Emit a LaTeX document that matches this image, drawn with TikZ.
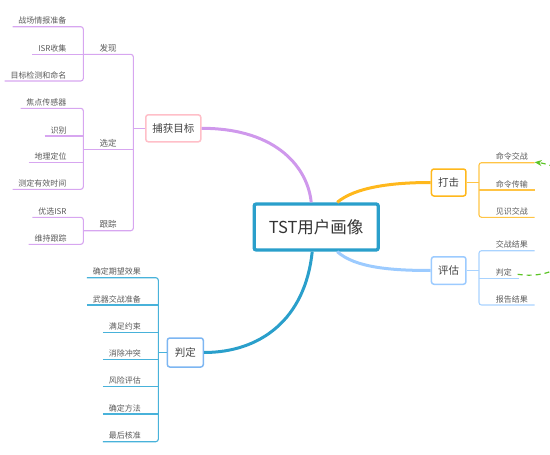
\documentclass[tikz,border=0pt]{standalone}
\usepackage{fontspec}
\setmainfont{Noto Sans CJK SC}
\usetikzlibrary{arrows.meta}
\definecolor{plc}{HTML}{D7A6F0}
\definecolor{pcv}{HTML}{CF98EC}
\definecolor{pinkb}{HTML}{FFBFC8}
\definecolor{orc}{HTML}{FFB81C}
\definecolor{orl}{HTML}{FFC445}
\definecolor{lbc}{HTML}{9CCBFF}
\definecolor{lbl}{HTML}{A9D3FF}
\definecolor{tlc}{HTML}{2A9FCB}
\definecolor{tll}{HTML}{48B2DA}
\definecolor{jdb}{HTML}{7DB6F2}
\definecolor{grn}{HTML}{5CC425}
\definecolor{leaftxt}{HTML}{5A5A5A}
\definecolor{boxtxt}{HTML}{444444}
\definecolor{ctxt}{HTML}{333333}
\newcommand\leaffont{\fontsize{8}{9}\selectfont}
\newcommand\subfont{\fontsize{8.5}{10}\selectfont}
\newcommand\boxfont{\fontsize{10.5}{12}\selectfont}
\newcommand\centerfont{\fontsize{16.5}{19}\selectfont}
\begin{document}
\begin{tikzpicture}[x=1pt,y=-1pt,
  leafL/.style={anchor=south east, yshift=2pt, inner sep=0pt, font=\leaffont, text=leaftxt},
  leafR/.style={anchor=south west, yshift=2pt, inner sep=0pt, font=\leaffont, text=leaftxt},
  subl/.style={anchor=south, yshift=2pt, inner sep=0pt, font=\subfont, text=leaftxt},
  bbox/.style={draw, line width=1.5pt, rounded corners=2.5pt, fill=white, font=\boxfont, text=boxtxt, inner sep=0pt},
  cbox/.style={draw=tlc, line width=3.3pt, rounded corners=2pt, fill=white, font=\centerfont, text=ctxt, minimum width=124pt, minimum height=46pt, inner sep=0pt},
  pl/.style={draw=plc, line width=1.1pt, rounded corners=2.5pt},
  ol/.style={draw=orl, line width=1.1pt, rounded corners=2.5pt},
  bl/.style={draw=lbl, line width=1.1pt, rounded corners=2.5pt},
  tl/.style={draw=tll, line width=1.1pt, rounded corners=2.5pt},
  mcurve/.style={line width=3pt},
  grnd/.style={draw=grn, line width=1.2pt, dash pattern=on 5pt off 4pt, -{Stealth[length=7pt,width=6pt]}}
]
\useasboundingbox (0,0) rectangle (550,455);

% ---------- boxes ----------
\node[cbox] (c) at (316.2,227) {TST用户画像};
\node[bbox, draw=pinkb, minimum width=55pt, minimum height=27pt] (cap) at (173.3,128.3) {捕获目标};
\node[bbox, draw=orc, minimum width=34.5pt, minimum height=27pt] (hit) at (448.7,182.5) {打击};
\node[bbox, draw=lbc, minimum width=34.5pt, minimum height=27.5pt] (eva) at (448.7,270.5) {评估};
\node[bbox, draw=jdb, minimum width=36pt, minimum height=29pt] (jud) at (185.3,352.5) {判定};

% ---------- main curves ----------
\draw[mcurve, draw=pcv] (cap.east) .. controls +(78,0) and +(-3,-32) .. ([xshift=-5pt]c.north);
\draw[mcurve, draw=orc] ([xshift=21pt]c.north) .. controls +(18,-15) and +(-40,0) .. (hit.west);
\draw[mcurve, draw=lbc] ([xshift=21pt]c.south) .. controls +(18,16) and +(-40,0) .. (eva.west);
\draw[mcurve, draw=tlc] ([xshift=-4pt]c.south) .. controls +(-7,68) and +(56,0) .. (jud.east);

% ---------- 捕获目标 ----------
\node[subl] (s1) at (108,54.3) {发现};
\node[subl] (s2) at (108,149.3) {选定};
\node[subl] (s3) at (108,230.7) {跟踪};
\coordinate (trk) at (133.3,128.3);
\draw[pl] (83.3,54.3) -- (133.3,54.3) -- (133.3,230.7) -- (83.3,230.7);
\draw[pl] (83.3,149.3) -- (133.3,149.3);
\draw[pl] (trk) -- (cap.west);

\node[leafL] (a1) at (66.7,26.7) {战场情报准备};
\node[leafL] (a2) at (66.7,54.3) {ISR收集};
\node[leafL] (a3) at (66.7,81) {目标检测和命名};
\draw[pl] ([xshift=-5.7pt,yshift=-2pt]a1.south west) -- (83.3,26.7) -- (83.3,81) -- ([xshift=-5.7pt,yshift=-2pt]a3.south west);
\draw[pl] ([xshift=-5.7pt,yshift=-2pt]a2.south west) -- (83.3,54.3);

\node[leafL] (b1) at (66.7,108.3) {焦点传感器};
\node[leafL] (b2) at (66.7,136) {识别};
\node[leafL] (b3) at (66.7,162.3) {地理定位};
\node[leafL] (b4) at (66.7,189.3) {测定有效时间};
\draw[pl] ([xshift=-5.7pt,yshift=-2pt]b1.south west) -- (83.3,108.3) -- (83.3,189.3) -- ([xshift=-5.7pt,yshift=-2pt]b4.south west);
\draw[pl] ([xshift=-5.7pt,yshift=-2pt]b2.south west) -- (83.3,136);
\draw[pl] ([xshift=-5.7pt,yshift=-2pt]b3.south west) -- (83.3,162.3);

\node[leafL] (t1) at (66.7,217.3) {优选ISR};
\node[leafL] (t2) at (66.7,244.3) {维持跟踪};
\draw[pl] ([xshift=-5.7pt,yshift=-2pt]t1.south west) -- (83.3,217.3) -- (83.3,244.3) -- ([xshift=-5.7pt,yshift=-2pt]t2.south west);

% ---------- 打击 ----------
\node[leafR] (h1) at (495.7,162.7) {命令交战};
\node[leafR] (h2) at (495.7,190) {命令传输};
\node[leafR] (h3) at (495.7,217.3) {见识交战};
\draw[ol] (hit.east) -- (479,182.5);
\draw[ol] ([xshift=6.6pt,yshift=-2pt]h1.south east) -- (479,162.7) -- (479,217.3) -- ([xshift=6.6pt,yshift=-2pt]h3.south east);
\draw[ol] (479,190) -- ([xshift=6.6pt,yshift=-2pt]h2.south east);

% ---------- 评估 ----------
\node[leafR] (e1) at (495.7,250.7) {交战结果};
\node[leafR] (e2) at (495.7,278.3) {判定};
\node[leafR] (e3) at (495.7,305) {报告结果};
\draw[bl] (eva.east) -- (479,270.5);
\draw[bl] ([xshift=6.6pt,yshift=-2pt]e1.south east) -- (479,250.7) -- (479,305) -- ([xshift=6.6pt,yshift=-2pt]e3.south east);
\draw[bl] (479,278.3) -- ([xshift=6.6pt,yshift=-2pt]e2.south east);

% ---------- 判定 ----------
\node[leafL] (j1) at (141,277.7) {确定期望效果};
\node[leafL] (j2) at (141,305) {武器交战准备};
\node[leafL] (j3) at (141,332.3) {满足约束};
\node[leafL] (j4) at (141,359.3) {消除冲突};
\node[leafL] (j5) at (141,386.7) {风险评估};
\node[leafL] (j6) at (141,414) {确定方法};
\node[leafL] (j7) at (141,441.7) {最后核准};
\draw[tl] (jud.west) -- (158.3,352.5);
\draw[tl] ([xshift=-5.7pt,yshift=-2pt]j1.south west) -- (158.3,277.7) -- (158.3,441.7) -- ([xshift=-5.7pt,yshift=-2pt]j7.south west);
\draw[tl] ([xshift=-5.7pt,yshift=-2pt]j2.south west) -- (158.3,305);
\draw[tl] ([xshift=-5.7pt,yshift=-2pt]j3.south west) -- (158.3,332.3);
\draw[tl] ([xshift=-5.7pt,yshift=-2pt]j4.south west) -- (158.3,359.3);
\draw[tl] ([xshift=-5.7pt,yshift=-2pt]j5.south west) -- (158.3,386.7);
\draw[tl] ([xshift=-5.7pt,yshift=-2pt]j6.south west) -- (158.3,414);

% ---------- green dashed relation ----------
\draw[grnd] ([xshift=5.6pt,yshift=2pt]e2.south east) .. controls +(83,12) and +(67,8) .. ([xshift=6.6pt,yshift=-1.5pt]h1.south east);
\end{tikzpicture}
\end{document}
